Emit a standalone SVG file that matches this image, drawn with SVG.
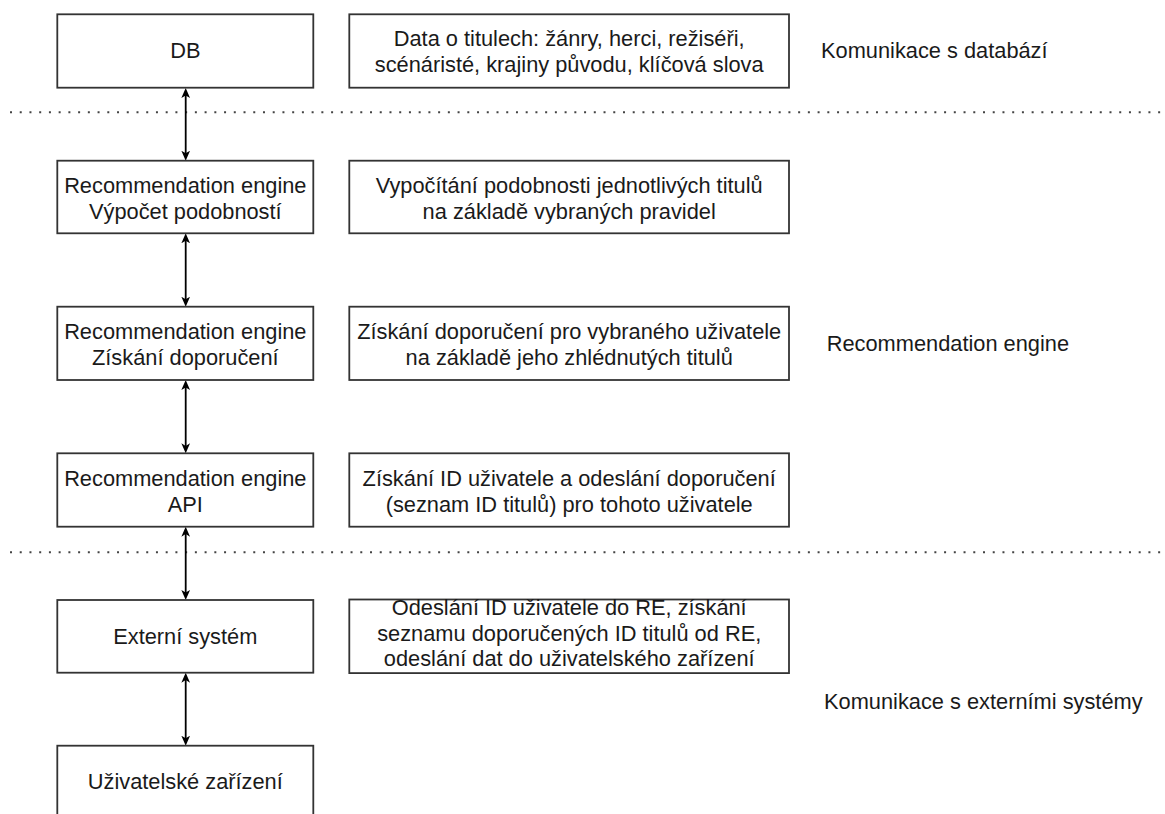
<svg xmlns="http://www.w3.org/2000/svg" width="1165" height="814" viewBox="0 0 1165 814">
  <style>
    .box { fill: #ffffff; stroke: #333333; stroke-width: 1.8; }
    .txt { font-family: "Liberation Sans", Arial, sans-serif; font-size: 21.8px; fill: #1a1a1a; }
    .mid { text-anchor: middle; }
    .sep { stroke: #444444; stroke-width: 2; stroke-dasharray: 2 7.73; fill: none; }
    .link { stroke: #000000; stroke-width: 1.8; fill: none; marker-start: url(#arrow); marker-end: url(#arrow); }
  </style>
  <defs>
    <marker id="arrow" viewBox="0 0 10 10" refX="6" refY="5" markerWidth="10" markerHeight="10" markerUnits="userSpaceOnUse" orient="auto-start-reverse">
      <path d="M0,0.65 L10,5 L0,9.35 L2.6,5 Z" fill="#000000"/>
    </marker>
  </defs>

  <rect width="1165" height="814" fill="#ffffff"/>

  <!-- layer separators -->
  <g id="separators">
    <line class="sep" x1="10" y1="112.3" x2="1165" y2="112.3"/>
    <line class="sep" x1="10" y1="552.3" x2="1165" y2="552.3"/>
  </g>

  <!-- vertical bidirectional links between components -->
  <g id="connectors">
    <line class="link" x1="185.7" y1="92" x2="185.7" y2="156.7"/>
    <line class="link" x1="185.7" y1="237.3" x2="185.7" y2="302.7"/>
    <line class="link" x1="185.7" y1="384" x2="185.7" y2="449.3"/>
    <line class="link" x1="185.7" y1="530.7" x2="185.7" y2="596"/>
    <line class="link" x1="185.7" y1="676.7" x2="185.7" y2="741.7"/>
  </g>

  <!-- components -->
  <g id="db">
    <rect class="box" x="57.3" y="14.3" width="256" height="73.4"/>
    <text class="txt mid" x="185.3" y="58.3">DB</text>
  </g>
  <g id="db-desc">
    <rect class="box" x="349.3" y="14.3" width="439.7" height="73.4"/>
    <text class="txt mid" x="569.2" y="46.4">Data o titulech: žánry, herci, režiséři,</text>
    <text class="txt mid" x="569.2" y="72.2">scénáristé, krajiny původu, klíčová slova</text>
  </g>

  <g id="re-similarity">
    <rect class="box" x="57.3" y="160.7" width="256" height="72.6"/>
    <text class="txt mid" x="185.3" y="192.7">Recommendation engine</text>
    <text class="txt mid" x="185.3" y="218.5">Výpočet podobností</text>
  </g>
  <g id="re-similarity-desc">
    <rect class="box" x="349.3" y="160.7" width="439.7" height="72.6"/>
    <text class="txt mid" x="569.2" y="192.7">Vypočítání podobnosti jednotlivých titulů</text>
    <text class="txt mid" x="569.2" y="218.5">na základě vybraných pravidel</text>
  </g>

  <g id="re-recommend">
    <rect class="box" x="57.3" y="306.7" width="256" height="73.3"/>
    <text class="txt mid" x="185.3" y="339">Recommendation engine</text>
    <text class="txt mid" x="185.3" y="364.8">Získání doporučení</text>
  </g>
  <g id="re-recommend-desc">
    <rect class="box" x="349.3" y="306.7" width="439.7" height="73.3"/>
    <text class="txt mid" x="569.2" y="339">Získání doporučení pro vybraného uživatele</text>
    <text class="txt mid" x="569.2" y="364.8">na základě jeho zhlédnutých titulů</text>
  </g>

  <g id="re-api">
    <rect class="box" x="57.3" y="453.3" width="256" height="73.4"/>
    <text class="txt mid" x="185.3" y="485.7">Recommendation engine</text>
    <text class="txt mid" x="185.3" y="511.5">API</text>
  </g>
  <g id="re-api-desc">
    <rect class="box" x="349.3" y="453.3" width="439.7" height="73.4"/>
    <text class="txt mid" x="569.2" y="485.7">Získání ID uživatele a odeslání doporučení</text>
    <text class="txt mid" x="569.2" y="511.5">(seznam ID titulů) pro tohoto uživatele</text>
  </g>

  <g id="external-system">
    <rect class="box" x="57.3" y="600" width="256" height="72.7"/>
    <text class="txt mid" x="185.3" y="643.6">Externí systém</text>
  </g>
  <g id="external-system-desc">
    <rect class="box" x="349.3" y="599.5" width="439.7" height="73.6"/>
    <text class="txt mid" x="569.2" y="615">Odeslání ID uživatele do RE, získání</text>
    <text class="txt mid" x="569.2" y="640.7">seznamu doporučených ID titulů od RE,</text>
    <text class="txt mid" x="569.2" y="666.4">odeslání dat do uživatelského zařízení</text>
  </g>

  <g id="user-device">
    <rect class="box" x="57.3" y="745.7" width="256" height="73"/>
    <text class="txt mid" x="185.3" y="789.4">Uživatelské zařízení</text>
  </g>

  <!-- layer captions -->
  <g id="captions">
    <text class="txt" x="821" y="57.7">Komunikace s databází</text>
    <text class="txt" x="826.7" y="350.7">Recommendation engine</text>
    <text class="txt" x="824" y="709.3">Komunikace s externími systémy</text>
  </g>
</svg>
